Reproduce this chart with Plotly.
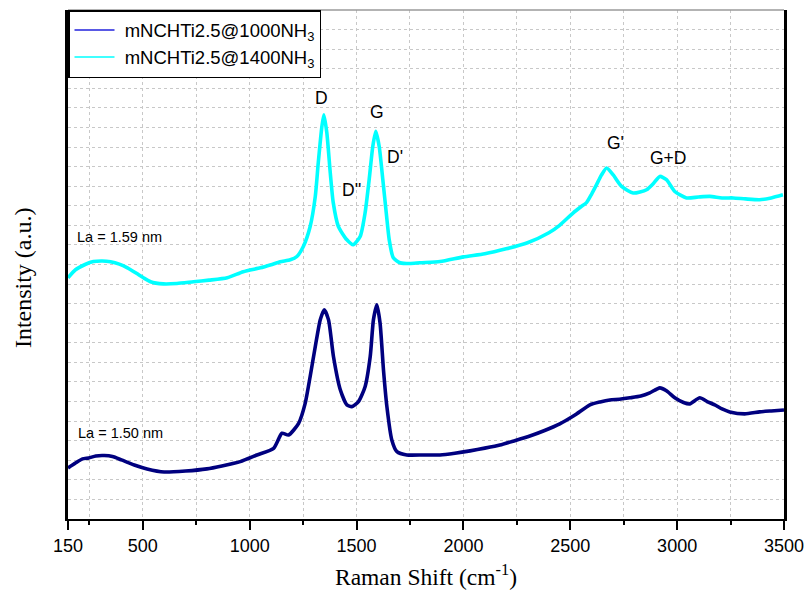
import plotly.graph_objects as go

# Raman spectra (intensity in arbitrary units, offset stacked)
shift_1400 = [150, 185, 230, 269, 310, 349, 390, 428, 470, 503, 536, 596, 660, 737, 810, 895,
              970, 1050, 1100, 1143, 1190, 1221, 1251, 1283, 1307, 1321, 1338, 1347, 1361,
              1377, 1391, 1415, 1455, 1484, 1517, 1540, 1559, 1576, 1590, 1606, 1623, 1639,
              1653, 1672, 1704, 1750, 1797, 1891, 2000, 2100, 2200, 2300, 2400, 2450, 2514,
              2550, 2576, 2600, 2623, 2645, 2670, 2700, 2740, 2794, 2857, 2890, 2919, 2950,
              2989, 3044, 3100, 3153, 3210, 3262, 3320, 3386, 3440, 3495]
int_1400 = [12.32, 12.73, 13.00, 13.15, 13.18, 13.14, 13.02, 12.83, 12.55, 12.32, 12.12,
            12.01, 12.03, 12.12, 12.20, 12.32, 12.63, 12.83, 12.99, 13.14, 13.24, 13.41,
            13.92, 14.94, 16.48, 18.20, 20.06, 20.65, 19.73, 17.69, 16.16, 14.94, 14.26,
            14.01, 14.43, 15.64, 17.33, 19.03, 19.80, 19.03, 17.33, 15.64, 14.26, 13.34,
            13.09, 13.05, 13.09, 13.15, 13.39, 13.55, 13.80, 14.11, 14.62, 15.00, 15.64,
            15.95, 16.16, 16.60, 17.08, 17.55, 17.93, 17.59, 16.99, 16.65, 16.82, 17.15,
            17.50, 17.33, 16.73, 16.40, 16.45, 16.48, 16.40, 16.40, 16.35, 16.31, 16.40,
            16.56]

shift_1000 = [150, 185, 218, 247, 280, 320, 358, 400, 460, 520, 600, 700, 800, 870, 956, 1034,
              1112, 1151, 1182, 1229, 1260, 1283, 1307, 1330, 1349, 1369, 1392, 1424,
              1455, 1478, 1509, 1540, 1564, 1579, 1595, 1610, 1626, 1642, 1665, 1689,
              1735, 1813, 1891, 1960, 2031, 2100, 2171, 2240, 2311, 2380, 2451, 2520, 2592,
              2640, 2685, 2730, 2779, 2830, 2872, 2919, 2950, 2989, 3030, 3059, 3106, 3140,
              3176, 3210, 3246, 3316, 3386, 3440, 3500]
int_1000 = [2.61, 2.86, 3.07, 3.12, 3.22, 3.24, 3.19, 3.02, 2.76, 2.56, 2.40, 2.45, 2.56,
            2.71, 2.93, 3.27, 3.61, 4.38, 4.29, 4.89, 5.92, 7.28, 8.81, 10.17, 10.69, 10.17,
            8.30, 6.60, 5.83, 5.74, 6.00, 6.76, 8.30, 10.17, 10.94, 10.01, 7.62, 5.74,
            4.04, 3.44, 3.27, 3.27, 3.27, 3.36, 3.48, 3.62, 3.78, 4.00, 4.24, 4.52, 4.86,
            5.30, 5.83, 5.98, 6.08, 6.12, 6.19, 6.28, 6.44, 6.70, 6.55, 6.19, 5.95, 5.88,
            6.19, 6.00, 5.83, 5.62, 5.47, 5.37, 5.47, 5.52, 5.57]

series_names = ["mNCHTi2.5@1000NH<sub>3</sub>", "mNCHTi2.5@1400NH<sub>3</sub>"]
line_colors = ["#00007F", "#00FFFF"]
legend_colors = ["#2222DD", "#00FFFF"]

# Band labels
band_labels = ["D", "G", "D'", "D''", "G'", "G+D"]
band_x = [1335, 1596, 1680, 1475, 2713, 2956]
band_y = [21.52, 20.81, 18.50, 16.82, 19.22, 18.46]

la_labels = ["La = 1.59 nm", "La = 1.50 nm"]
la_x = [185, 188]
la_y = [14.42, 4.40]

x_ticks = [150, 500, 1000, 1500, 2000, 2500, 3000, 3500]
x_minor = [250, 750, 1250, 1750, 2250, 2750, 3250]

fig = go.Figure()

for xs, ys, c in [(shift_1000, int_1000, line_colors[0]), (shift_1400, int_1400, line_colors[1])]:
    fig.add_trace(go.Scatter(x=xs, y=ys, mode="lines", showlegend=False,
                             line=dict(color=c, width=3.6, shape="spline", smoothing=0.6)))

# legend entries with thin sample lines
for name, c in zip(series_names, legend_colors):
    fig.add_trace(go.Scatter(x=[None], y=[None], mode="lines", name=" " + name,
                             line=dict(color=c, width=1.5)))

for t, x, y in zip(band_labels, band_x, band_y):
    fig.add_annotation(x=x, y=y, text=t, showarrow=False, xanchor="center", yanchor="middle",
                       font=dict(family="Liberation Sans", size=17.5, color="black"))

for t, x, y in zip(la_labels, la_x, la_y):
    fig.add_annotation(x=x, y=y, text=t, showarrow=False, xanchor="left", yanchor="middle",
                       font=dict(family="Liberation Sans", size=14.5, color="black"))

# y-axis title
fig.add_annotation(xref="paper", yref="paper", x=-0.063, y=0.475, text="Intensity (a.u.)",
                   textangle=-90, showarrow=False, xanchor="center", yanchor="middle",
                   font=dict(family="Liberation Serif", size=24, color="black"))

# top frame edge in grey
fig.add_shape(type="line", xref="paper", yref="paper", x0=0, x1=1, y0=1, y1=1,
              line=dict(color="#9a9a9a", width=1.5))

fig.update_layout(
    width=808, height=598,
    margin=dict(l=68, r=24, t=10, b=79),
    paper_bgcolor="white", plot_bgcolor="white",
    font=dict(family="Liberation Sans", color="black"),
    legend=dict(x=0, y=1, xanchor="left", yanchor="top", bgcolor="white",
                bordercolor="black", borderwidth=1.5,
                font=dict(family="Liberation Sans", size=18.5, color="black"),
                tracegroupgap=0, itemwidth=40),
    xaxis=dict(
        range=[150, 3500], tickvals=x_ticks, ticktext=[str(v) for v in x_ticks],
        ticks="outside", ticklen=9, tickwidth=1.5, tickcolor="black",
        tickfont=dict(family="Liberation Sans", size=18, color="black"),
        showline=True, linecolor="black", linewidth=2,
        showgrid=True, gridcolor="#c8c8c8", griddash="dot", gridwidth=1,
        minor=dict(tickvals=x_minor, ticks="outside", ticklen=4, tickwidth=1.5,
                   tickcolor="black", showgrid=True, gridcolor="#c8c8c8",
                   griddash="dot", gridwidth=1),
        zeroline=False, automargin=False,
        title=dict(text="Raman Shift (cm<sup>-1</sup>)", standoff=14,
                   font=dict(family="Liberation Serif", size=23.5, color="black")),
    ),
    yaxis=dict(
        range=[0, 26], dtick=1, showticklabels=False, ticks="",
        showline=True, linecolor="black", linewidth=2.5, mirror=True,
        showgrid=True, gridcolor="#c8c8c8", griddash="dot", gridwidth=1,
        zeroline=False, automargin=False,
    ),
)

fig.write_html("out.html")
